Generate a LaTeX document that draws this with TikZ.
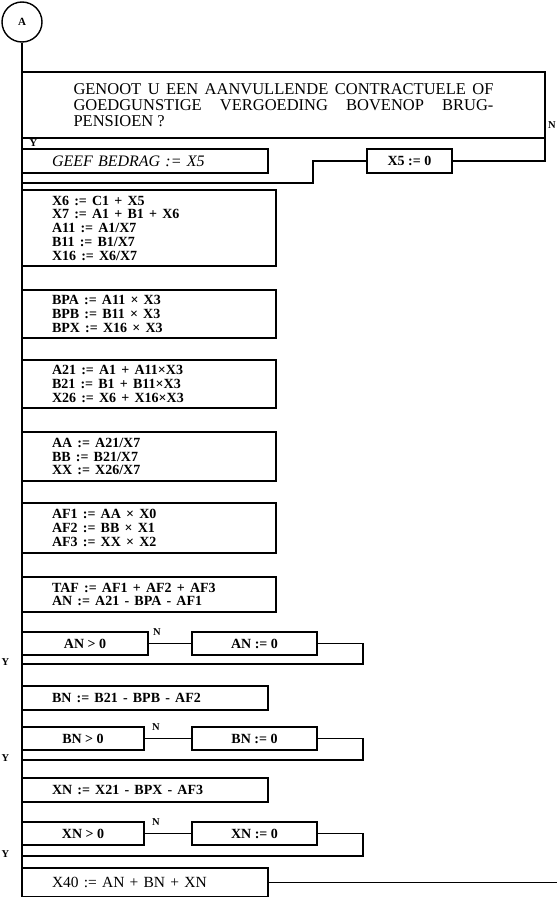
\documentclass[tikz,border=0pt]{standalone}
\usepackage{fontspec}
\setmainfont{Liberation Serif}
\usetikzlibrary{positioning,calc}
\tikzset{
  conn/.style={draw,circle,minimum size=40pt,inner sep=0pt,font=\fontsize{11}{12}\selectfont\bfseries},
  quest/.style={draw,outer sep=0pt,minimum width=523pt,minimum height=66pt,text width=420pt,align=justify,inner sep=0pt,font=\fontsize{16.5}{16}\selectfont},
  stmt/.style={draw,outer sep=0pt,minimum width=254pt,text width=194pt,inner xsep=30pt,inner ysep=0pt,align=left,font=\fontsize{14}{13.75}\selectfont\bfseries,
    execute at begin node={\spaceskip=5.2pt plus 2pt\relax}},
  short/.style={stmt,minimum width=246pt,text width=186pt,minimum height=24pt},
  ital/.style={short,font=\fontsize{16}{16}\selectfont\itshape},
  plain/.style={short,font=\fontsize{15.5}{16}\selectfont},
  cond/.style={draw,outer sep=0pt,minimum width=122pt,minimum height=23pt,inner sep=0pt,font=\fontsize{14}{14}\selectfont\bfseries},
  setbox/.style={cond,minimum width=125pt},
  lbl/.style={inner sep=1pt,font=\fontsize{10.5}{11}\selectfont\bfseries}
}
\begin{document}
\begin{tikzpicture}[x=1pt,y=1pt,line width=1.4pt]
  \useasboundingbox (0,0) rectangle (557,-897);
  \node[conn] (a) at (22,-22) {A};
  \node[quest,anchor=north west] (q) at (22,-72) {GENOOT U EEN AANVULLENDE CONTRACTUELE OF\linebreak GOEDGUNSTIGE VERGOEDING BOVENOP BRUG-\linebreak PENSIOEN ?};
  \node[lbl,anchor=west] (ytop) at (28,-143) {Y};
  \node[lbl] (ntop) at (552,-125) {N};
  \node[ital,anchor=north west] (geef) at (22,-149) {GEEF BEDRAG := X5};
  \node[setbox,minimum width=85pt,minimum height=24pt,anchor=north west] (x5) at (367,-149) {X5 := 0};
  \coordinate (j1) at (22,-183);
  \draw (q.south east) |- (x5.east);
  \draw (x5.west) -- ++(-54pt,0) |- (j1);
  % assignments
  \node[stmt,minimum height=76pt,anchor=north west] (b1) at (22,-190) {X6 := C1 + X5\\X7 := A1 + B1 + X6\\A11 := A1/X7\\B11 := B1/X7\\X16 := X6/X7};
  \node[stmt,minimum height=48pt,below=24pt of b1] (b2) {BPA := A11 × X3\\BPB := B11 × X3\\BPX := X16 × X3};
  \node[stmt,minimum height=48pt,below=22pt of b2] (b3) {A21 := A1 + A11×X3\\B21 := B1 + B11×X3\\X26 := X6 + X16×X3};
  \node[stmt,minimum height=49pt,below=24pt of b3] (b4) {AA := A21/X7\\BB := B21/X7\\XX := X26/X7};
  \node[stmt,minimum height=50pt,below=22pt of b4] (b5) {AF1 := AA × X0\\AF2 := BB × X1\\AF3 := XX × X2};
  \node[stmt,minimum height=35pt,below=24pt of b5] (b6) {TAF := AF1 + AF2 + AF3\\AN := A21 - BPA - AF1};
  % AN
  \node[cond,minimum width=126pt,below=20pt of b6.south west,anchor=north west] (c1) {AN > 0};
  \node[setbox,right=44pt of c1] (s1) {AN := 0};
  \coordinate[below=9pt of c1.south west] (j2);
  \draw (c1) -- node[lbl,above=6pt,pos=0.2] (n1) {N} (s1);
  \draw (s1.east) -- ++(46pt,0) |- (j2);
  \node[lbl,left=11pt of j2,yshift=2pt] (y1) {Y};
  % BN
  \node[short,below=22pt of j2,anchor=north west] (b7) {BN := B21 - BPB - AF2};
  \node[cond,below=17pt of b7.south west,anchor=north west] (c2) {BN > 0};
  \node[setbox,right=48pt of c2] (s2) {BN := 0};
  \coordinate[below=10pt of c2.south west] (j3);
  \draw (c2) -- node[lbl,above=6pt,pos=0.25] (n2) {N} (s2);
  \draw (s2.east) -- ++(46pt,0) |- (j3);
  \node[lbl,left=11pt of j3,yshift=2pt] (y2) {Y};
  % XN
  \node[short,below=18pt of j3,anchor=north west] (b8) {XN := X21 - BPX - AF3};
  \node[cond,below=20pt of b8.south west,anchor=north west] (c3) {XN > 0};
  \node[setbox,right=48pt of c3] (s3) {XN := 0};
  \coordinate[below=11pt of c3.south west] (j4);
  \draw (c3) -- node[lbl,above=6pt,pos=0.25] (n3) {N} (s3);
  \draw (s3.east) -- ++(46pt,0) |- (j4);
  \node[lbl,left=11pt of j4,yshift=2pt] (y3) {Y};
  % total
  \node[plain,minimum height=29pt,below=12pt of j4,anchor=north west] (b9) {X40 := AN + BN + XN};
  \coordinate (exitR) at (557,0);
  \draw (b9.east) -- (b9.east -| exitR);
  \draw (a.south) -- (b9.south west);
\end{tikzpicture}
\end{document}
